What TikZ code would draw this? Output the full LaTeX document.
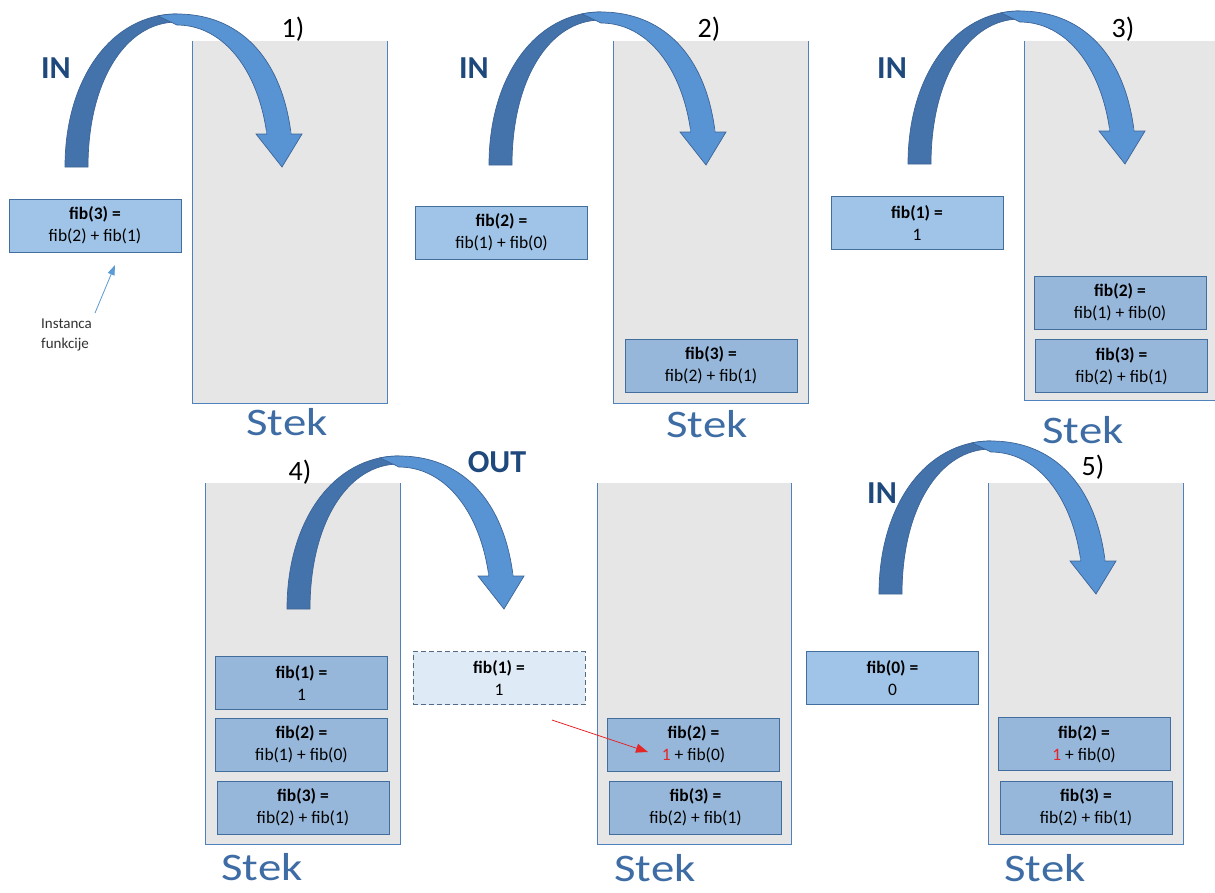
\documentclass[tikz,border=0pt]{standalone}
\usepackage{fontspec}
\setmainfont{Carlito}
\newfontfamily\stekfont[FakeStretch=1.2]{Carlito}
\usetikzlibrary{arrows.meta}

\definecolor{stackfill}{RGB}{230,230,230}
\definecolor{stackline}{RGB}{79,129,189}
\definecolor{boxin}{RGB}{160,196,231}
\definecolor{boxon}{RGB}{150,183,218}
\definecolor{boxline}{RGB}{66,110,158}
\definecolor{ghost}{RGB}{222,235,247}
\definecolor{ghostline}{RGB}{84,106,132}
\definecolor{arrdark}{RGB}{68,114,171}
\definecolor{arrlight}{RGB}{88,147,212}
\definecolor{arrline}{RGB}{60,100,150}
\definecolor{labelblue}{RGB}{31,73,125}
\definecolor{stekblue}{RGB}{62,108,164}
\definecolor{notered}{RGB}{228,38,38}
\definecolor{notegray}{RGB}{50,50,50}
\definecolor{pointer}{RGB}{91,155,213}

\tikzset{
  callbox/.style={draw=boxline, line width=1pt, minimum width=172, minimum height=53,
    inner sep=0pt, align=center, font=\fontsize{17.5}{22}\selectfont},
  newcall/.style={callbox, fill=boxin},
  stacked/.style={callbox, fill=boxon},
  returned/.style={callbox, fill=ghost, draw=ghostline, dash pattern=on 5pt off 3pt},
  stackbody/.style={fill=stackfill, inner sep=0pt, minimum width=194, minimum height=#1},
  stackwall/.style={draw=stackline, line width=1.2pt},
  steklabel/.style={anchor=base, inner sep=0pt, text=stekblue, font=\stekfont\fontsize{39}{40}\selectfont},
  steplabel/.style={anchor=base, font=\fontsize{28}{30}\selectfont},
  dirlabel/.style={anchor=base, text=labelblue, font=\bfseries\fontsize{32}{34}\selectfont},
}

% curved arrow; the argument is the outer foot of its tail
\newcommand\flowarrow[1]{%
  \begin{scope}[shift={#1}]
    \filldraw[fill=arrdark, draw=arrline, line width=0.7pt]
      (0,0) .. controls (0,-89) and (47,-153) .. (112,-153)
      -- (112,-145) .. controls (60,-145) and (23,-85) .. (23,0) -- cycle;
    \begin{scope}
      \clip (80,-160) rectangle (260,-33);
      \filldraw[fill=arrlight, draw=arrline, line width=0.7pt]
        (93,-151.1) .. controls (100,-152.6) and (106,-153) .. (112,-153)
        .. controls (184,-153) and (228,-95) .. (228,0)
        -- (204,0) .. controls (204,-83) and (165,-142) .. (112,-142) -- cycle;
    \end{scope}
    \fill[arrlight] (191,-33) -- (217,0) -- (237,-33) -- cycle;
    \fill[arrlight] (201,-36) rectangle (226,-32);
    \draw[arrline, line width=0.7pt, line join=miter]
      (202,-33) -- (191,-33) -- (217,0) -- (237,-33) -- (225.7,-33);
  \end{scope}}

\newcommand\stackwalls[1]{%
  \draw[stackwall] (#1.north west) -- (#1.south west) -- (#1.south east) -- (#1.north east);}

\begin{document}
\begin{tikzpicture}[x=1pt, y=-1pt]
  \clip (0,0) rectangle (1215,892);
  \fill[white] (0,0) rectangle (1215,892);

  % the five stacks
  \node[stackbody=362] (s1) at (290,222) {};
  \node[stackbody=362] (s2) at (711,222) {};
  \node[stackbody=359] (s3) at (1122,220.5) {};
  \node[stackbody=361] (s4) at (303,663.5) {};
  \node[stackbody=361] (s4b) at (694.5,663.5) {};
  \node[stackbody=361] (s5) at (1086,663.5) {};
  \stackwalls{s1}
  \stackwalls{s2}
  \stackwalls{s3}
  \stackwalls{s4}
  \stackwalls{s4b}
  \stackwalls{s5}

  % step 1
  \node[newcall] (c1) at (95,225.5) {\textbf{fib(3) =}\\fib(2) + fib(1)};
  % step 2
  \node[newcall] (c2) at (501.5,232.5) {\textbf{fib(2) =}\\fib(1) + fib(0)};
  \node[stacked] (c2a) at (711,365.5) {\textbf{fib(3) =}\\fib(2) + fib(1)};
  % step 3
  \node[newcall] (c3) at (917,223) {\textbf{fib(1) =}\\1};
  \node[stacked] (c3b) at (1120,302.5) {\textbf{fib(2) =}\\fib(1) + fib(0)};
  \node[stacked] (c3a) at (1121.5,366) {\textbf{fib(3) =}\\fib(2) + fib(1)};
  % step 4
  \node[stacked] (c4c) at (301.5,683) {\textbf{fib(1) =}\\1};
  \node[stacked] (c4b) at (301.5,744.5) {\textbf{fib(2) =}\\fib(1) + fib(0)};
  \node[stacked] (c4a) at (303,807.5) {\textbf{fib(3) =}\\fib(2) + fib(1)};
  \node[returned] (ret) at (499,678) {\textbf{fib(1) =}\\1};
  \node[stacked] (c4e) at (693.5,744.5) {\textbf{fib(2) =}\\\textcolor{notered}{1} + fib(0)};
  \node[stacked] (c4d) at (695.5,807.5) {\textbf{fib(3) =}\\fib(2) + fib(1)};
  % step 5
  \node[newcall] (c5) at (892.5,678) {\textbf{fib(0) =}\\0};
  \node[stacked] (c5b) at (1084,744) {\textbf{fib(2) =}\\\textcolor{notered}{1} + fib(0)};
  \node[stacked] (c5a) at (1086,807.5) {\textbf{fib(3) =}\\fib(2) + fib(1)};

  % stack captions
  \node[steklabel] (t1) at (287,435) {Stek};
  \node[steklabel] (t2) at (707,437) {Stek};
  \node[steklabel] (t3) at (1083,443) {Stek};
  \node[steklabel] (t4) at (262,880) {Stek};
  \node[steklabel] (t4b) at (655,881) {Stek};
  \node[steklabel] (t5) at (1045,881) {Stek};

  % step numbers
  \node[steplabel] (n1) at (293,37) {1)};
  \node[steplabel] (n2) at (709,37) {2)};
  \node[steplabel] (n3) at (1123,37) {3)};
  \node[steplabel] (n4) at (300,480) {4)};
  \node[steplabel] (n5) at (1093,475) {5)};

  % push / pop arrows
  \flowarrow{(65,167)}
  \flowarrow{(489,165)}
  \flowarrow{(908,164)}
  \flowarrow{(287,609)}
  \flowarrow{(879,594)}

  \node[dirlabel] (in1) at (56,78) {IN};
  \node[dirlabel] (in2) at (474,78) {IN};
  \node[dirlabel] (in3) at (892,78) {IN};
  \node[dirlabel] (out4) at (497,472) {OUT};
  \node[dirlabel] (in5) at (882,503) {IN};

  % note on the first call
  \node[anchor=north west, align=left, text=notegray, inner sep=0pt,
        font=\fontsize{15}{19.5}\selectfont] (note) at (41,319) {Instanca\\funkcije};
  \coordinate (notetail) at (95,313);
  \coordinate (notehead) at (115,265);
  \draw[pointer, line width=0.8pt, -{Triangle[length=10pt,width=7pt]}] (notetail) -- (notehead);

  % returned value flows into the waiting call
  \coordinate (rettail) at (552,720);
  \coordinate (rethead) at (648,752);
  \draw[notered, line width=0.8pt, -{Triangle[length=12pt,width=9pt]}] (rettail) -- (rethead);
\end{tikzpicture}
\end{document}
